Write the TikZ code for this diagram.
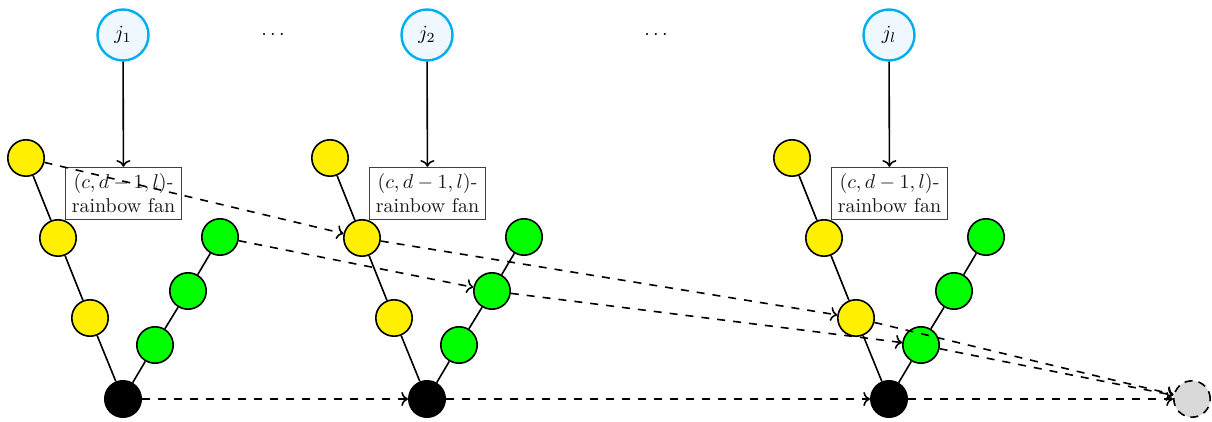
\documentclass[tikz,border=0pt]{standalone}
\usetikzlibrary{arrows.meta}
\definecolor{jblue}{RGB}{0,174,239}
\definecolor{jfill}{RGB}{240,248,255}
\definecolor{fanyellow}{RGB}{255,240,0}
\definecolor{fangreen}{RGB}{0,255,0}
\definecolor{endgray}{RGB}{217,217,217}
\begin{document}
\begin{tikzpicture}[x=0.5pt,y=-0.5pt,
  vtx/.style={circle,draw,thick,minimum size=18.2pt,inner sep=0pt},
  yv/.style={vtx,fill=fanyellow},
  gv/.style={vtx,fill=fangreen},
  bv/.style={vtx,fill=black},
  ev/.style={vtx,fill=endgray,dash pattern=on 4pt off 3pt},
  jv/.style={circle,draw=jblue,very thick,fill=jfill,minimum size=25.5pt,inner sep=0pt},
  fan/.style={draw=black!75,thin,align=center,text=black!90},
  tree/.style={thick},
  link/.style={thick,dash pattern=on 4pt off 4pt,->},
  feed/.style={thick,->}]
\useasboundingbox (0,0) rectangle (1212,422);

% the fans: a root, a yellow path and a green path, a top vertex and its label
\foreach \i/\x/\lab in {1/123/j_1,2/427/j_2,3/889/j_l}{
  \node[bv] (b\i) at (\x,399) {};
  \node[yv] (ya\i) at (\x-97,158) {};
  \node[yv] (yb\i) at (\x-65,238) {};
  \node[yv] (yc\i) at (\x-33,318) {};
  \node[gv] (ga\i) at (\x+32,345) {};
  \node[gv] (gb\i) at (\x+65,291) {};
  \node[gv] (gc\i) at (\x+97,237) {};
  \node[jv] (j\i) at (\x,35) {$\lab$};
  \node[fan] (f\i) at (\x+0.5,193.5) {$(c,d-1,l)$-\\rainbow fan};
  \draw[tree] (b\i) -- (yc\i) -- (yb\i) -- (ya\i);
  \draw[tree] (b\i) -- (ga\i) -- (gb\i) -- (gc\i);
  \draw[feed] (j\i) -- (f\i);
}

\node (d1) at (273,35) {$\cdots$};
\node (d2) at (656,35) {$\cdots$};

\node[ev] (end) at (1192,399) {};

% links between consecutive fans
\draw[link] (b1) -- (b2);
\draw[link] (b2) -- (b3);
\draw[link] (b3) -- (end);
\draw[link] (ya1) -- (yb2);
\draw[link] (gc1) -- (gb2);
\draw[link] (yb2) -- (yc3);
\draw[link] (gb2) -- (ga3);
\draw[link] (yc3) -- (end);
\draw[link] (ga3) -- (end);
\end{tikzpicture}
\end{document}
